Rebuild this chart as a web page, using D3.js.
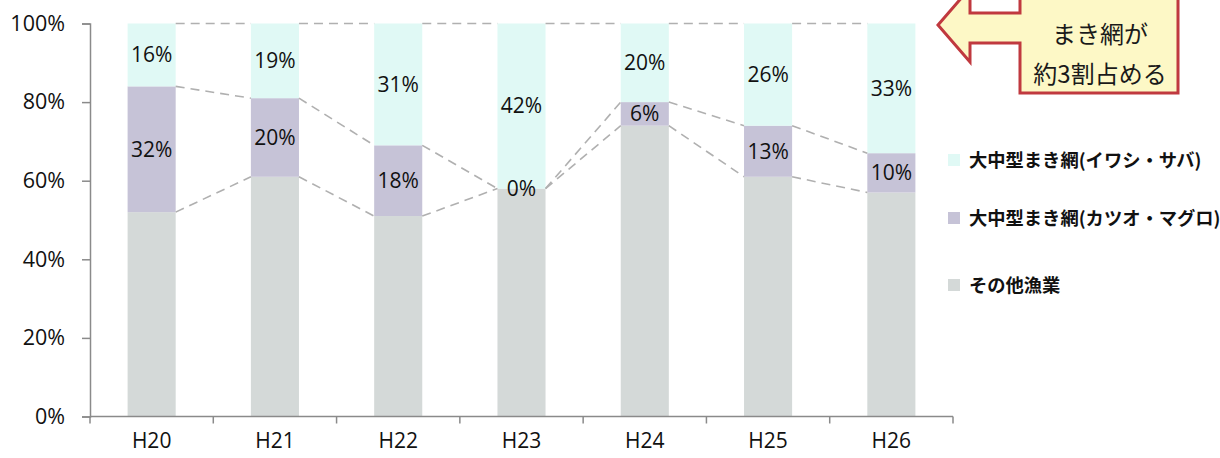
<!DOCTYPE html>
<html>
<head>
<meta charset="utf-8">
<script src="https://cdn.jsdelivr.net/npm/d3@7"></script>
<style>
  body { margin: 0; background: #fff; }
  svg { display: block; }
</style>
</head>
<body>
<script>

var years = ["H20", "H21", "H22", "H23", "H24", "H25", "H26"];

// share of each fishery per year (%)
var iwashiSaba = [16, 19, 31, 42, 20, 26, 33];
var katsuoMaguro = [32, 20, 18, 0, 6, 13, 10];
var sonota = [52, 61, 51, 58, 74, 61, 57];

var seriesNames = [
    "大中型まき網(イワシ・サバ)",
    "大中型まき網(カツオ・マグロ)",
    "その他漁業"
];
var yTicks = [0, 20, 40, 60, 80, 100];
var calloutLines = ["まき網が", "約3割占める"];

var W = 1220, H = 458;
var colors = { top: "#e0f9f5", mid: "#c6c3d7", bot: "#d4d9d8" };
var latin = "'Open Sans', 'DejaVu Sans', sans-serif";
var cjk = "'Noto Sans CJK JP', sans-serif";

var svg = d3.select("body").append("svg")
    .attr("width", W)
    .attr("height", H);

var x = d3.scaleBand().domain(years).range([90, 953]).padding(0);
var y = d3.scaleLinear().domain([0, 100]).range([416.5, 23.5]);
var barW = x.bandwidth() * 0.39;

function barLeft(d) { return x(d) + (x.bandwidth() - barW) / 2; }

// stacked data
var data = years.map(function(yr, i) {
    return { year: yr, bot: sonota[i], mid: katsuoMaguro[i], top: iwashiSaba[i] };
});

// y axis
var yAxis = svg.append("g")
    .attr("transform", "translate(90,0)")
    .call(d3.axisLeft(y).tickValues(yTicks).tickSize(8).tickPadding(17)
        .tickFormat(function(d) { return d + "%"; }));
yAxis.select(".domain").attr("stroke", "#8a8a8a").attr("stroke-width", 1.5);
yAxis.selectAll(".tick line").attr("stroke", "#8a8a8a").attr("stroke-width", 1.5);
yAxis.selectAll(".tick text")
    .attr("fill", "#111")
    .style("font-family", latin)
    .style("font-size", "21.5px");

// bars
var bars = svg.append("g").selectAll("g")
    .data(data)
    .enter().append("g");

bars.append("rect")
    .attr("x", function(d) { return barLeft(d.year); })
    .attr("width", barW)
    .attr("y", function(d) { return y(d.bot); })
    .attr("height", function(d) { return y(0) - y(d.bot); })
    .attr("fill", colors.bot);

bars.append("rect")
    .attr("x", function(d) { return barLeft(d.year); })
    .attr("width", barW)
    .attr("y", function(d) { return y(d.bot + d.mid); })
    .attr("height", function(d) { return y(d.bot) - y(d.bot + d.mid); })
    .attr("fill", colors.mid);

bars.append("rect")
    .attr("x", function(d) { return barLeft(d.year); })
    .attr("width", barW)
    .attr("y", function(d) { return y(d.bot + d.mid + d.top); })
    .attr("height", function(d) { return y(d.bot + d.mid) - y(d.bot + d.mid + d.top); })
    .attr("fill", colors.top);

// dashed series lines between bars
var levels = [
    function(d) { return d.bot; },
    function(d) { return d.bot + d.mid; },
    function(d) { return d.bot + d.mid + d.top; }
];
var links = [];
for (var i = 0; i < data.length - 1; i++) {
    for (var k = 0; k < levels.length; k++) {
        links.push({ a: data[i], b: data[i + 1], f: levels[k] });
    }
}
svg.append("g").selectAll("line")
    .data(links)
    .enter().append("line")
    .attr("x1", function(d) { return barLeft(d.a.year) + barW; })
    .attr("x2", function(d) { return barLeft(d.b.year); })
    .attr("y1", function(d) { return y(d.f(d.a)); })
    .attr("y2", function(d) { return y(d.f(d.b)); })
    .attr("stroke", "#b0b0b0")
    .attr("stroke-width", 1.6)
    .attr("stroke-dasharray", "9,6");

// value labels (top and middle segments)
var labels = [];
data.forEach(function(d) {
    labels.push({ year: d.year, v: d.top, c: d.bot + d.mid + d.top / 2 });
    labels.push({ year: d.year, v: d.mid, c: d.bot + d.mid / 2 });
});
svg.append("g").selectAll("text")
    .data(labels)
    .enter().append("text")
    .attr("x", function(d) { return x(d.year) + x.bandwidth() / 2; })
    .attr("y", function(d) { return y(d.c); })
    .attr("dy", "0.35em")
    .attr("text-anchor", "middle")
    .attr("fill", "#111")
    .style("font-family", latin)
    .style("font-size", "21px")
    .text(function(d) { return d.v + "%"; });

// x axis
var xg = svg.append("g");
xg.append("line")
    .attr("x1", 90).attr("x2", 953)
    .attr("y1", y(0)).attr("y2", y(0))
    .attr("stroke", "#8a8a8a").attr("stroke-width", 1.5);
var bounds = years.map(function(d) { return x(d); }).concat([x(years[years.length - 1]) + x.bandwidth()]);
xg.selectAll(".xt")
    .data(bounds)
    .enter().append("line")
    .attr("class", "xt")
    .attr("x1", function(d) { return d; })
    .attr("x2", function(d) { return d; })
    .attr("y1", y(0)).attr("y2", y(0) + 7)
    .attr("stroke", "#8a8a8a").attr("stroke-width", 1.5);
xg.selectAll("text")
    .data(years)
    .enter().append("text")
    .attr("x", function(d) { return x(d) + x.bandwidth() / 2; })
    .attr("y", 441)
    .attr("dy", "0.35em")
    .attr("text-anchor", "middle")
    .attr("fill", "#111")
    .style("font-family", latin)
    .style("font-size", "21px")
    .text(function(d) { return d; });

// legend
var legendY = [160, 218, 285];
var legendCol = [colors.top, colors.mid, colors.bot];
var lg = svg.append("g").selectAll("g")
    .data(seriesNames)
    .enter().append("g")
    .attr("transform", function(d, i) { return "translate(948," + legendY[i] + ")"; });
lg.append("rect")
    .attr("x", 0).attr("y", -6)
    .attr("width", 12).attr("height", 12)
    .attr("fill", function(d, i) { return legendCol[i]; });
lg.append("text")
    .attr("x", 21)
    .attr("dy", "0.36em")
    .attr("fill", "#111")
    .style("font-family", cjk)
    .style("font-weight", "bold")
    .style("font-size", "18.3px")
    .text(function(d) { return d; });

// callout arrow box
var callout = svg.append("g");
var shape = [
    [938, 25], [970, -12], [970, 13], [1020, 13], [1020, -30],
    [1178, -30], [1178, 93], [1020, 93], [1020, 43], [970, 43], [970, 62]
];
callout.append("path")
    .attr("d", d3.line()(shape) + "Z")
    .attr("fill", "#fdf8c6")
    .attr("stroke", "#c0393f")
    .attr("stroke-width", 3)
    .attr("stroke-linejoin", "miter");
callout.selectAll("text")
    .data(calloutLines)
    .enter().append("text")
    .attr("x", 1100)
    .attr("y", function(d, i) { return 34 + i * 40; })
    .attr("dy", "0.36em")
    .attr("text-anchor", "middle")
    .attr("fill", "#1a1a1a")
    .style("font-family", cjk)
    .style("font-size", "24px")
    .text(function(d) { return d; });

</script>
</body>
</html>
